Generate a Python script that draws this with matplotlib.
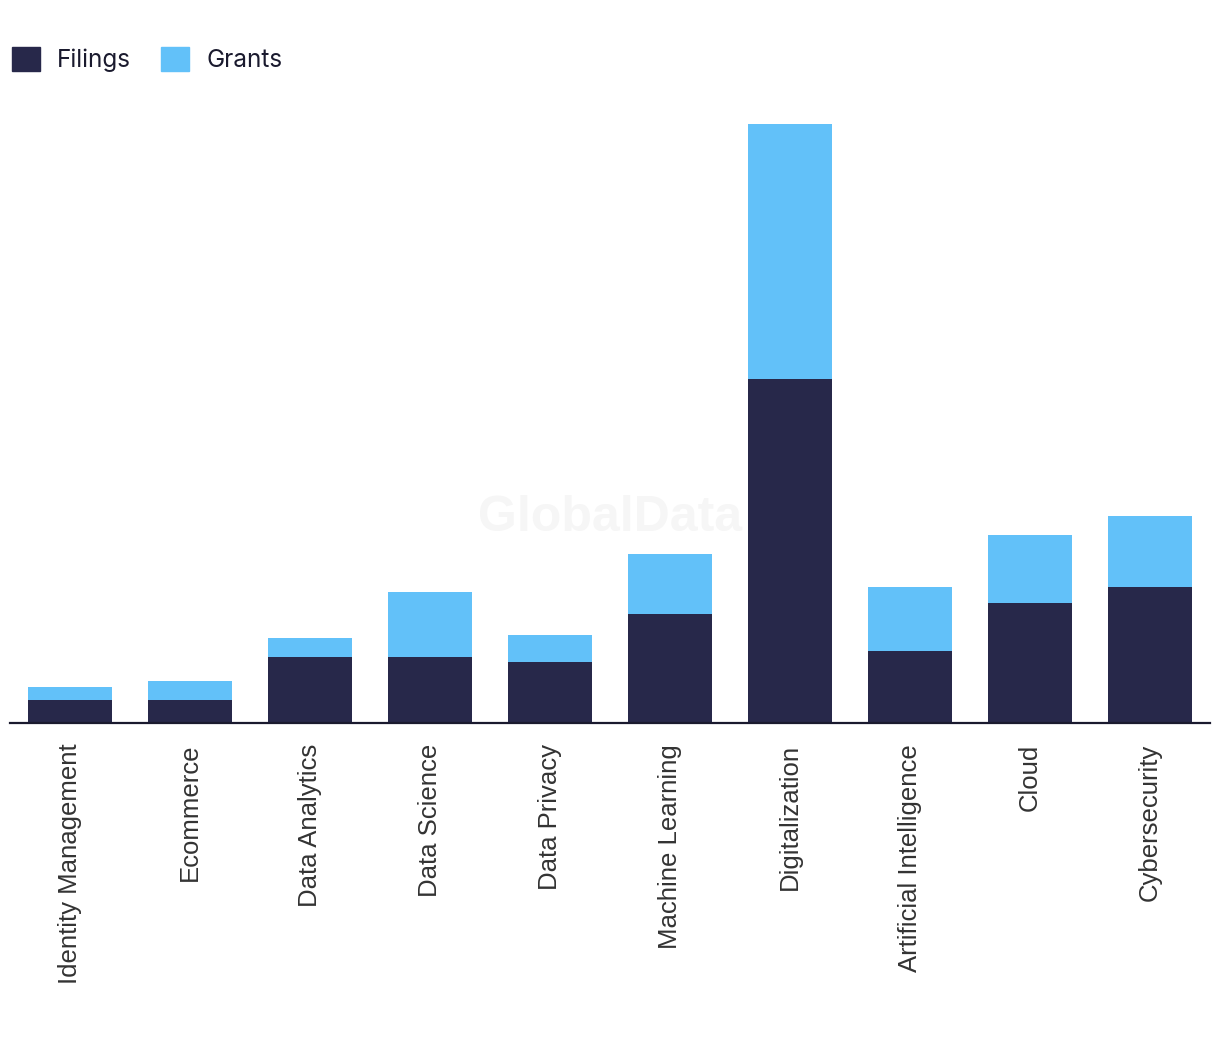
import numpy as np
import matplotlib
matplotlib.use("Agg")
import matplotlib.pyplot as plt
from matplotlib.patches import Patch

categories = ["Identity Management", "Ecommerce", "Data Analytics", "Data Science",
              "Data Privacy", "Machine Learning", "Digitalization",
              "Artificial Intelligence", "Cloud", "Cybersecurity"]
filings = [23, 23, 66, 66, 61, 109, 344, 72, 120, 136]
grants = [13, 19, 19, 65, 27, 60, 255, 64, 68, 71]

DARK = "#27284a"
LIGHT = "#62c1f9"

fig = plt.figure(figsize=(12.2, 10.38), dpi=100)
ax = fig.add_axes([10 / 1220, 315 / 1038, 1200 / 1220, 623 / 1038])

x = np.arange(len(categories))
ax.bar(x, filings, width=0.7, color=DARK, zorder=2)
ax.bar(x, grants, width=0.7, bottom=filings, color=LIGHT, zorder=2)

ax.set_xlim(-0.5, len(categories) - 0.5)
ax.set_ylim(0, 623)
ax.set_yticks([])
for s in ["top", "right", "left"]:
    ax.spines[s].set_visible(False)
ax.spines["bottom"].set_color("#1a1a2e")
ax.spines["bottom"].set_linewidth(1.6)
ax.spines["bottom"].set_zorder(3)
ax.set_xticks(x)
ax.set_xticklabels(categories, rotation=90, fontsize=18.5, color="#333333",
                   family="Liberation Sans", va="top", ha="center")
ax.tick_params(axis="x", length=0, pad=15)

# watermark sits behind the bars
ax.text((610 - 10) / 1200, (723 - 518) / 623, "GlobalData", transform=ax.transAxes,
        fontsize=36, fontweight="bold", family="Liberation Sans",
        color="#f6f6f6", ha="center", va="center", zorder=1)

handles = [Patch(color=DARK, label="Filings"), Patch(color=LIGHT, label="Grants")]
fig.legend(handles=handles, loc="upper left", bbox_to_anchor=(2 / 1220, 1 - 37 / 1038),
           ncol=2, frameon=False, prop={"family": "Inter", "size": 17.5},
           handlelength=1.15, handleheight=1.15, handletextpad=0.7, columnspacing=1.25,
           labelcolor="#1a1a2e", borderaxespad=0)

fig.savefig("out.png", dpi=100)
